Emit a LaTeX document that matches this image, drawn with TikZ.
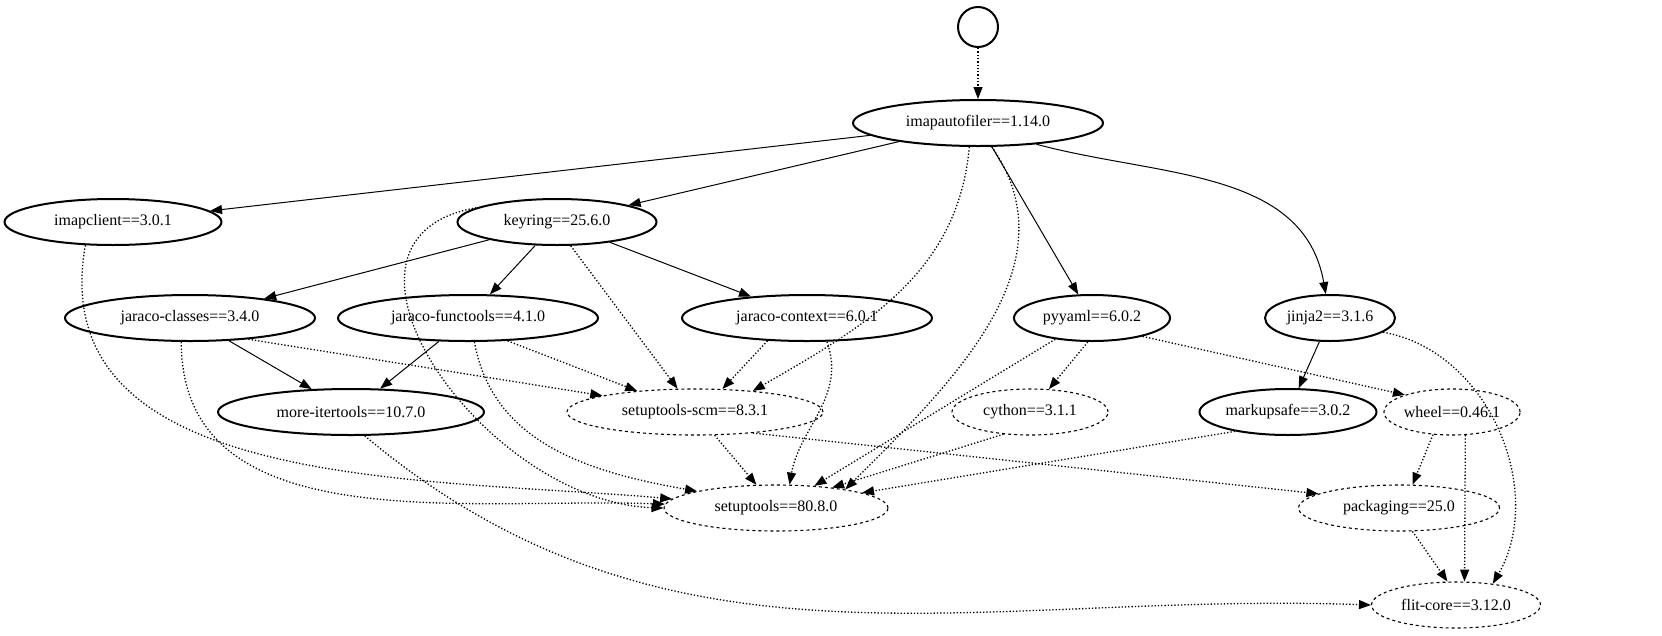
\documentclass[tikz,border=0pt]{standalone}
\usepackage{fontspec}
\setmainfont{Liberation Serif}
\usetikzlibrary{arrows.meta,shapes.geometric}
\begin{document}
\begin{tikzpicture}[x=1pt,y=-1pt,
 pkg/.style={ellipse,draw,line width=2pt,inner sep=0pt,minimum height=46pt,font=\fontsize{16}{16}\selectfont},
 opt/.style={pkg,line width=1.1pt,dashed},
 e/.style={-{Triangle[length=12pt,width=9pt]},line width=1pt},
 d/.style={e,line width=1.3pt,dotted}]
\useasboundingbox (0,0) rectangle (1662,635);
\node[circle,draw,line width=2pt,minimum size=40pt] (root) at (978,27) {};
\node[pkg,minimum width=250pt] (ia) at (978,123) {imapautofiler==1.14.0};
\node[pkg,minimum width=217pt] (ic) at (113,222) {imapclient==3.0.1};
\node[pkg,minimum width=199pt] (kr) at (557,222) {keyring==25.6.0};
\node[pkg,minimum width=250pt] (jc) at (190,318) {jaraco-classes==3.4.0};
\node[pkg,minimum width=260pt] (jf) at (468,318) {jaraco-functools==4.1.0};
\node[pkg,minimum width=250pt] (jx) at (807,318) {jaraco-context==6.0.1};
\node[pkg,minimum width=156pt] (py) at (1092,318) {pyyaml==6.0.2};
\node[pkg,minimum width=130pt] (j2) at (1330,318) {jinja2==3.1.6};
\node[pkg,minimum width=266pt] (mi) at (351,412) {more-itertools==10.7.0};
\node[opt,minimum width=256pt] (scm) at (695,412) {setuptools-scm==8.3.1};
\node[opt,minimum width=156pt] (cy) at (1030,412) {cython==3.1.1};
\node[pkg,minimum width=177pt] (ms) at (1288,412) {markupsafe==3.0.2};
\node[opt,minimum width=135pt] (wh) at (1452,412) {wheel==0.46.1};
\node[opt,minimum width=224pt] (st) at (776,508) {setuptools==80.8.0};
\node[opt,minimum width=201pt] (pk) at (1399,508) {packaging==25.0};
\node[opt,minimum width=169pt] (fc) at (1456,605) {flit-core==3.12.0};
\draw[d] (root) -- (ia);
\draw[e] (ia) -- (ic);
\draw[e] (ia) -- (kr);
\draw[e] (ia) -- (py);
\draw[e] (ia.-20) to[out=-15,in=100] (j2);
\draw[d] (ia.-110) to[out=-95,in=30] (scm.20);
\draw[d] (ia.-60) to[out=-55,in=45] (st.15);
\draw[d] (ic.-140) to[out=-100,in=175] (st.175);
\draw[d] (kr.170) to[out=190,in=178,looseness=1.3] (st.180);
\draw[e] (kr) -- (jc);
\draw[e] (kr) -- (jf);
\draw[e] (kr) -- (jx);
\draw[d] (kr.-60) -- (scm);
\draw[e] (jc) -- (mi);
\draw[e] (jf) -- (mi);
\draw[d] (jc.-20) -- (scm.170);
\draw[d] (jc.-110) to[out=-90,in=178] (st.178);
\draw[d] (jf.-30) -- (scm.160);
\draw[d] (jf.-75) to[out=-80,in=170] (st.168);
\draw[d] (jx.-150) -- (scm.40);
\draw[d] (jx.-50) to[out=-70,in=80] (st.60);
\draw[d] (scm) -- (st);
\draw[d] (scm.-20) -- (pk.170);
\draw[d] (mi.-60) to[out=-40,in=178] (fc.180);
\draw[d] (py.-150) -- (st.30);
\draw[d] (py.-100) -- (cy);
\draw[d] (py.-20) -- (wh.160);
\draw[d] (cy.-140) -- (st.20);
\draw[d] (ms.-160) -- (st.10);
\draw[e] (j2) -- (ms);
\draw[d] (j2.-15) to[out=-10,in=60] (fc.30);
\draw[d] (wh.-130) -- (pk.60);
\draw[d] (wh.-60) -- (fc.70);
\draw[d] (pk.-60) -- (fc.110);
\end{tikzpicture}
\end{document}
